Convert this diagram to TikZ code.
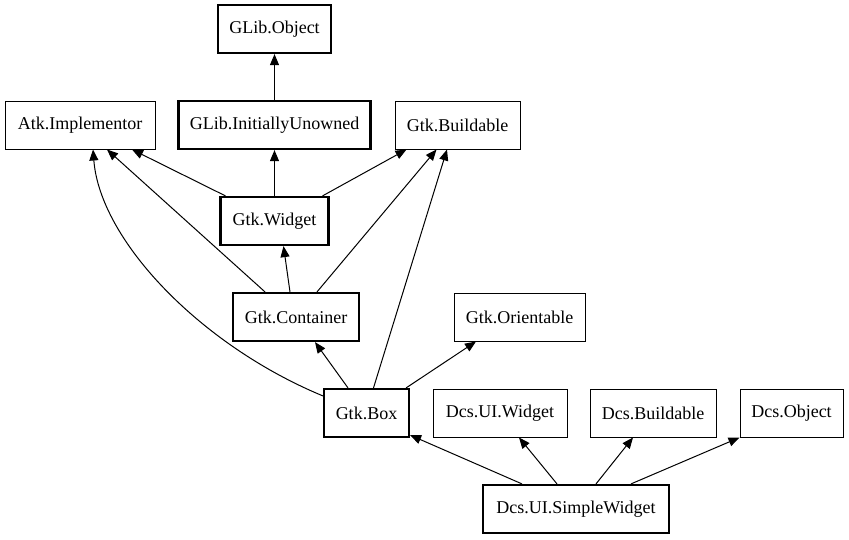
\documentclass[tikz,border=0pt]{standalone}
\usepackage{fontspec}
\setmainfont{Liberation Serif}
\usetikzlibrary{arrows.meta}
\begin{document}
\begin{tikzpicture}[x=1pt,y=-1pt,
 cls/.style={draw,line width=1pt,minimum height=48pt,inner sep=0pt,font=\fontsize{18}{20}\selectfont},
 thickcls/.style={cls,line width=2.2pt},
 inh/.style={line width=1pt,-{Triangle[length=11pt,width=9pt]}}]
\useasboundingbox (0,0) rectangle (849,539);
\node[thickcls,minimum width=113pt] (obj) at (274.5,29) {GLib.Object};
\node[cls,minimum width=150pt] (atk) at (80,125) {Atk.Implementor};
\node[thickcls,minimum width=192pt] (iu) at (274.5,125) {GLib.InitiallyUnowned};
\node[cls,minimum width=125pt] (gb) at (457.5,125) {Gtk.Buildable};
\node[thickcls,minimum width=108pt] (gw) at (274.5,221) {Gtk.Widget};
\node[thickcls,minimum width=126pt] (gc) at (296,317) {Gtk.Container};
\node[cls,minimum width=131pt] (go) at (519.5,317) {Gtk.Orientable};
\node[thickcls,minimum width=85pt] (box) at (366.5,413) {Gtk.Box};
\node[cls,minimum width=134pt] (duw) at (500,413) {Dcs.UI.Widget};
\node[cls,minimum width=126pt] (db) at (653,413) {Dcs.Buildable};
\node[cls,minimum width=103pt] (dob) at (791.5,413) {Dcs.Object};
\node[thickcls,minimum width=186pt] (sw) at (576,509) {Dcs.UI.SimpleWidget};

\draw[inh] (iu.north) -- (obj.south);
\draw[inh] ([xshift=-49pt]gw.north) -- ([xshift=52pt]atk.south);
\draw[inh] (gw.north) -- (iu.south);
\draw[inh] ([xshift=48pt]gw.north) -- ([xshift=-51pt]gb.south);
\draw[inh] ([xshift=-31pt]gc.north) -- ([xshift=27pt]atk.south);
\draw[inh] ([xshift=-6pt]gc.north) -- ([xshift=9pt]gw.south);
\draw[inh] ([xshift=21pt]gc.north) -- ([xshift=-21pt]gb.south);
\draw[inh] ([yshift=-8pt]box.north west) .. controls (200,345) and (100,240) .. ([xshift=13pt]atk.south);
\draw[inh] ([xshift=-18.5pt]box.north) -- ([xshift=19pt]gc.south);
\draw[inh] ([xshift=7pt]box.north) -- ([xshift=-10.5pt]gb.south);
\draw[inh] ([xshift=-4pt]box.north east) -- ([xshift=-43.5pt]go.south);
\draw[inh] ([xshift=-54pt]sw.north) -- ([yshift=3pt]box.south east);
\draw[inh] ([xshift=-19pt]sw.north) -- ([xshift=19pt]duw.south);
\draw[inh] ([xshift=20pt]sw.north) -- ([xshift=-20pt]db.south);
\draw[inh] ([xshift=55pt]sw.north) -- ([xshift=-52pt]dob.south);
\end{tikzpicture}
\end{document}
